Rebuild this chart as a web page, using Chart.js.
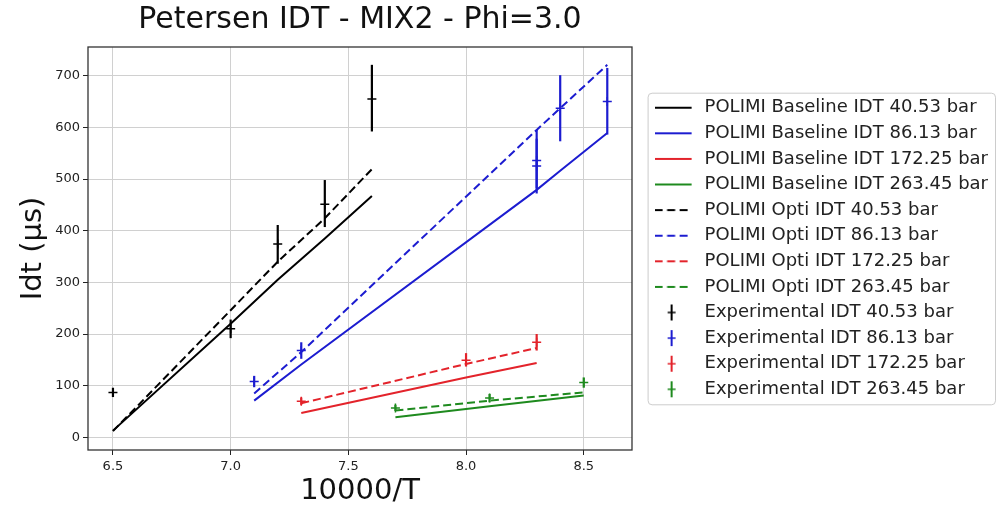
<!DOCTYPE html>
<html>
<head>
<meta charset="utf-8">
<script src="https://cdn.jsdelivr.net/npm/chart.js@4"></script>
<style>
  html, body { margin: 0; background: #fff; }
  #wrap { width: 1000px; height: 513px; }
</style>
</head>
<body>
<div id="wrap"><canvas id="chart" width="1000" height="513"></canvas></div>
<script>
// tick labels
const xTicks = [6.5, 7.0, 7.5, 8.0, 8.5];
const yTicks = [0, 100, 200, 300, 400, 500, 600, 700];

// pressures / colours
const pressures = ['40.53', '86.13', '172.25', '263.45'];
const colors = ['#000000', '#1c1cd0', '#e3232b', '#1e8a1e'];

// POLIMI model curves (10000/T, IDT in us)
const modelX40 = [6.5, 7.0, 7.2, 7.4, 7.6];
const baseline40 = [13, 220, 305, 385, 467];
const opti40 = [12, 246, 340, 424, 519];

const modelX86 = [7.1, 7.3, 8.3, 8.4, 8.6];
const baseline86 = [71, 141, 479, 516, 589];
const opti86 = [85, 165, 595, 637, 721];

const modelX172 = [7.3, 8.0, 8.3];
const baseline172 = [47, 116, 144];
const opti172 = [66, 142, 173];

const modelX263 = [7.7, 8.1, 8.5];
const baseline263 = [39, 60, 81];
const opti263 = [52, 71, 87];

// experiments with error range
const expX40 = [6.5, 7.0, 7.2, 7.4, 7.6];
const exp40 = [87, 210, 374, 451, 655];
const expLo40 = [78, 192, 336, 407, 592];
const expHi40 = [96, 228, 411, 498, 721];

const expX86 = [7.1, 7.3, 8.3, 8.3, 8.4, 8.6];
const exp86 = [108, 168, 536, 525, 637, 650];
const expLo86 = [97, 152, 482, 472, 573, 586];
const expHi86 = [119, 184, 595, 578, 701, 715];

const expX172 = [7.3, 8.0, 8.3];
const exp172 = [70, 149, 184];
const expLo172 = [63, 137, 168];
const expHi172 = [77, 163, 200];

const expX263 = [7.7, 8.1, 8.5];
const exp263 = [57, 76, 106];
const expLo263 = [51, 68, 96];
const expHi263 = [63, 84, 116];

Chart.defaults.font.family = 'DejaVu Sans';

const GLYPH_W = 41;

function pts(xs, ys) {
    return xs.map((x, i) => ({ x: x, y: ys[i] }));
}

// legend samples drawn on small canvases
function lineGlyph(color, dashed) {
    const c = document.createElement('canvas');
    c.width = GLYPH_W; c.height = 6;
    const g = c.getContext('2d');
    g.strokeStyle = color;
    g.lineWidth = 2;
    if (dashed) g.setLineDash([8, 4.5]);
    g.beginPath(); g.moveTo(0, 3); g.lineTo(37, 3); g.stroke();
    return c;
}

function errGlyph(color) {
    const c = document.createElement('canvas');
    c.width = GLYPH_W; c.height = 18;
    const g = c.getContext('2d');
    g.strokeStyle = color;
    g.lineWidth = 2;
    g.beginPath(); g.moveTo(17, 1); g.lineTo(17, 17); g.stroke();
    g.lineWidth = 1.5;
    g.beginPath(); g.moveTo(13, 9); g.lineTo(21, 9); g.stroke();
    return c;
}

function lineSet(label, xs, ys, color, dashed) {
    return {
        label: label,
        data: pts(xs, ys),
        showLine: true,
        borderColor: color,
        backgroundColor: color,
        borderWidth: 2,
        borderDash: dashed ? [8, 4] : [],
        pointRadius: 0,
        fill: false,
        tension: 0,
        legendGlyph: lineGlyph(color, dashed)
    };
}

function expSet(label, xs, ys, lo, hi, color) {
    return {
        label: label,
        data: pts(xs, ys),
        showLine: false,
        borderColor: color,
        backgroundColor: color,
        pointStyle: 'cross',
        pointRadius: 4.5,
        pointBorderWidth: 1.5,
        errLo: lo,
        errHi: hi,
        legendGlyph: errGlyph(color)
    };
}

const datasets = [
    lineSet('POLIMI Baseline IDT ' + pressures[0] + ' bar', modelX40, baseline40, colors[0], false),
    lineSet('POLIMI Baseline IDT ' + pressures[1] + ' bar', modelX86, baseline86, colors[1], false),
    lineSet('POLIMI Baseline IDT ' + pressures[2] + ' bar', modelX172, baseline172, colors[2], false),
    lineSet('POLIMI Baseline IDT ' + pressures[3] + ' bar', modelX263, baseline263, colors[3], false),
    lineSet('POLIMI Opti IDT ' + pressures[0] + ' bar', modelX40, opti40, colors[0], true),
    lineSet('POLIMI Opti IDT ' + pressures[1] + ' bar', modelX86, opti86, colors[1], true),
    lineSet('POLIMI Opti IDT ' + pressures[2] + ' bar', modelX172, opti172, colors[2], true),
    lineSet('POLIMI Opti IDT ' + pressures[3] + ' bar', modelX263, opti263, colors[3], true),
    expSet('Experimental IDT ' + pressures[0] + ' bar', expX40, exp40, expLo40, expHi40, colors[0]),
    expSet('Experimental IDT ' + pressures[1] + ' bar', expX86, exp86, expLo86, expHi86, colors[1]),
    expSet('Experimental IDT ' + pressures[2] + ' bar', expX172, exp172, expLo172, expHi172, colors[2]),
    expSet('Experimental IDT ' + pressures[3] + ' bar', expX263, exp263, expLo263, expHi263, colors[3])
];

// vertical error bars
const errorBars = {
    id: 'errorBars',
    afterDatasetsDraw(chart) {
        const { ctx, scales } = chart;
        chart.data.datasets.forEach(ds => {
            if (!ds.errLo) return;
            ctx.save();
            ctx.strokeStyle = ds.borderColor;
            ctx.lineWidth = 2.2;
            ds.data.forEach((p, i) => {
                const px = scales.x.getPixelForValue(p.x);
                ctx.beginPath();
                ctx.moveTo(px, scales.y.getPixelForValue(ds.errLo[i]));
                ctx.lineTo(px, scales.y.getPixelForValue(ds.errHi[i]));
                ctx.stroke();
            });
            ctx.restore();
        });
    }
};

// box round the plot + legend frame
const frames = {
    id: 'frames',
    beforeDraw(chart) {
        const ctx = chart.ctx;
        const boxes = chart.legend && chart.legend.legendHitBoxes;
        if (!boxes || !boxes.length) return;
        let l = Infinity, t = Infinity, r = -Infinity, b = -Infinity;
        boxes.forEach(h => {
            l = Math.min(l, h.left); t = Math.min(t, h.top);
            r = Math.max(r, h.left + h.width); b = Math.max(b, h.top + h.height);
        });
        l -= 7; t -= 6; r += 7; b += 6;
        r = Math.min(r, chart.width - 2);
        ctx.save();
        ctx.fillStyle = '#fff';
        ctx.strokeStyle = '#cccccc';
        ctx.lineWidth = 1;
        ctx.beginPath();
        ctx.roundRect(l + 0.5, t + 0.5, r - l, b - t, 4);
        ctx.fill();
        ctx.stroke();
        ctx.restore();
    },
    beforeDatasetsDraw(chart) {
        const { ctx, chartArea: a } = chart;
        ctx.save();
        ctx.strokeStyle = '#333';
        ctx.lineWidth = 1.3;
        ctx.strokeRect(a.left, a.top, a.right - a.left, a.bottom - a.top);
        ctx.restore();
    }
};

new Chart(document.getElementById('chart'), {
    type: 'scatter',
    data: { datasets: datasets },
    plugins: [errorBars, frames],
    options: {
        responsive: false,
        animation: false,
        layout: { padding: { left: 0, right: 2, top: 0, bottom: 0 } },
        scales: {
            x: {
                type: 'linear',
                min: 6.394,
                max: 8.705,
                afterBuildTicks: s => { s.ticks = xTicks.map(v => ({ value: v })); },
                afterFit: s => { s.height = 63; },
                ticks: {
                    font: { size: 13 }, color: '#222', padding: 4, maxRotation: 0,
                    callback: v => v.toFixed(1)
                },
                grid: { color: '#d0d0d0', lineWidth: 1, tickLength: 5, tickColor: '#222' },
                border: { display: false },
                title: {
                    display: true, text: '10000/T', color: '#111',
                    font: { size: 29 }, padding: { top: 1, bottom: 4 }
                }
            },
            y: {
                type: 'linear',
                min: -24.5,
                max: 755.5,
                afterBuildTicks: s => { s.ticks = yTicks.map(v => ({ value: v })); },
                afterFit: s => { s.width = 88; },
                ticks: { font: { size: 13 }, color: '#222', padding: 3 },
                grid: { color: '#d0d0d0', lineWidth: 1, tickLength: 5, tickColor: '#222' },
                border: { display: false },
                title: {
                    display: true, text: 'Idt (μs)', color: '#111',
                    font: { size: 29 }, padding: { top: 16, bottom: 0 }
                }
            },
            gap: {
                type: 'linear',
                position: 'right',
                display: true,
                ticks: { display: false },
                grid: { display: false },
                border: { display: false },
                afterFit: s => { s.width = 15; }
            }
        },
        plugins: {
            title: {
                display: true,
                text: 'Petersen IDT - MIX2 - Phi=3.0',
                color: '#111',
                font: { size: 30, weight: 'normal' },
                padding: { top: 2, bottom: 9 },
                fullSize: false
            },
            legend: {
                position: 'right',
                fullSize: false,
                align: 'center',
                maxWidth: 420,
                labels: {
                    usePointStyle: true,
                    pointStyleWidth: GLYPH_W,
                    boxHeight: 16,
                    padding: 7.6,
                    color: '#222',
                    font: { size: 18 },
                    generateLabels: chart => chart.data.datasets.map((ds, i) => ({
                        text: ds.label,
                        fillStyle: ds.borderColor,
                        strokeStyle: ds.borderColor,
                        fontColor: '#222',
                        lineWidth: 0,
                        pointStyle: ds.legendGlyph,
                        datasetIndex: i,
                        hidden: false
                    }))
                }
            },
            tooltip: { enabled: false }
        }
    }
});
</script>
</body>
</html>
